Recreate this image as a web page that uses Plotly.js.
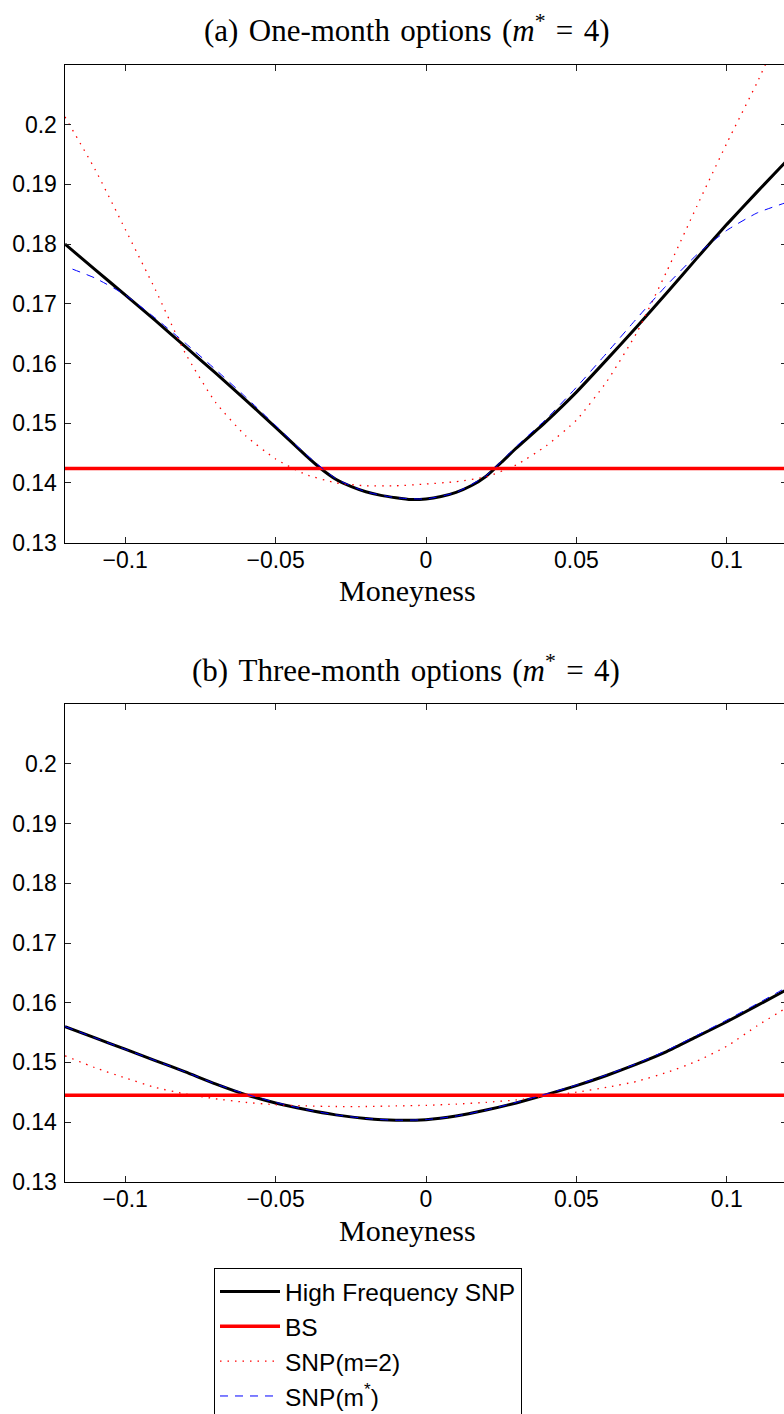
<!DOCTYPE html>
<html>
<head>
<meta charset="utf-8">
<script src="https://cdn.plot.ly/plotly-3.0.1.min.js"></script>
<style>
  html, body { margin: 0; padding: 0; background: #ffffff; overflow: hidden; }
  #chart { width: 800px; height: 1440px; }
</style>
</head>
<body>
<div id="chart"></div>
<script>
// ---------- data ----------
// (a) One-month options
const xTopHF = [-0.12,-0.11,-0.10,-0.09,-0.08,-0.07,-0.06,-0.05,-0.04,-0.035,-0.03,-0.025,-0.02,-0.015,-0.01,-0.005,0,0.005,0.01,0.015,0.02,0.025,0.03,0.04,0.05,0.06,0.07,0.08,0.09,0.10,0.11,0.12];
const yTopHF = [0.1800,0.1757,0.1715,0.1672,0.1628,0.1584,0.1539,0.1493,0.1446,0.1424,0.1406,0.1394,0.1385,0.1379,0.1375,0.1372,0.1373,0.1377,0.1384,0.1395,0.1411,0.1434,0.1458,0.1503,0.1552,0.1606,0.1661,0.1718,0.1776,0.1833,0.1887,0.1940];

const xTopSNPstar = [-0.1175,-0.11,-0.10,-0.09,-0.08,-0.07,-0.06,-0.05,-0.04,-0.03,-0.02,-0.01,0,0.01,0.02,0.03,0.04,0.05,0.06,0.07,0.08,0.09,0.10,0.11,0.12];
const yTopSNPstar = [0.1758,0.1743,0.1715,0.1676,0.1634,0.1590,0.1544,0.1496,0.1448,0.1407,0.1385,0.1375,0.1373,0.1384,0.1412,0.1461,0.1507,0.1560,0.1617,0.1675,0.1731,0.1782,0.1823,0.1852,0.1870];

const moneyness = [-0.12,-0.11,-0.10,-0.09,-0.08,-0.07,-0.06,-0.05,-0.04,-0.03,-0.02,-0.01,0,0.01,0.02,0.03,0.04,0.05,0.06,0.07,0.08,0.09,0.10,0.11,0.12];
const yTopSNP2 = [0.2013,0.1925,0.1825,0.1724,0.1617,0.1535,0.1479,0.1440,0.1414,0.1400,0.1395,0.1395,0.1398,0.1402,0.1410,0.1430,0.1462,0.1505,0.1569,0.1651,0.1754,0.1863,0.1969,0.2070,0.2180];

const bsRange = [-0.12, 0.12];
const bsTop = 0.1424;

// (b) Three-month options
const yBotHF = [0.1560,0.1541,0.1522,0.1503,0.1484,0.1464,0.1446,0.1432,0.1421,0.1412,0.1406,0.1403,0.1404,0.1410,0.1420,0.1432,0.1446,0.1461,0.1478,0.1497,0.1518,0.1543,0.1568,0.1595,0.1622];
const yBotSNPstar = [0.1560,0.1541,0.1522,0.1503,0.1484,0.1464,0.1447,0.1433,0.1421,0.1412,0.1406,0.1403,0.1404,0.1410,0.1420,0.1433,0.1447,0.1462,0.1479,0.1498,0.1520,0.1545,0.1571,0.1598,0.1626];
const yBotSNP2 = [0.1511,0.1491,0.1474,0.1458,0.1447,0.1439,0.1433,0.1429,0.1427,0.1426,0.1426,0.1427,0.1428,0.1430,0.1433,0.1437,0.1443,0.1450,0.1458,0.1468,0.1483,0.1502,0.1527,0.1561,0.1592];
const bsBot = 0.1445;

// tick labels
const xTickVals = [-0.1, -0.05, 0, 0.05, 0.1];
const xTickText = ['\u22120.1', '\u22120.05', '0', '0.05', '0.1'];
const yTickVals = [0.13, 0.14, 0.15, 0.16, 0.17, 0.18, 0.19, 0.2];
const yTickText = ['0.13', '0.14', '0.15', '0.16', '0.17', '0.18', '0.19', '0.2'];

const seriesNames = ['High Frequency SNP', 'BS', 'SNP(m=2)', 'SNP(m<sup>*</sup>)'];
const S = '\u2004';
const titleA = '(a)' + S + 'One-month' + S + 'options' + S + '(<i>m</i><sup>*</sup>' + S + '=' + S + '4)';
const titleB = '(b)' + S + 'Three-month' + S + 'options' + S + '(<i>m</i><sup>*</sup>' + S + '=' + S + '4)';
const xLabel = 'Moneyness';

// ---------- styles ----------
const sHF  = {color: '#000000', width: 3, shape: 'spline', smoothing: 0.5};
const sBS  = {color: '#ff0000', width: 3.5};
const sM2  = {color: '#ff0000', width: 1.3, dash: '1.5px,6px', shape: 'spline', smoothing: 0.5};
const sMS  = {color: '#0000ff', width: 1, dash: '8px,7px', shape: 'spline', smoothing: 0.5};

const traces = [
  {x: xTopHF, y: yTopHF, xaxis: 'x', yaxis: 'y', mode: 'lines', line: sHF, name: seriesNames[0], legendgroup: 'hf'},
  {x: bsRange, y: [bsTop, bsTop], xaxis: 'x', yaxis: 'y', mode: 'lines', line: sBS, name: seriesNames[1], legendgroup: 'bs'},
  {x: moneyness, y: yTopSNP2, xaxis: 'x', yaxis: 'y', mode: 'lines', line: sM2, name: seriesNames[2], legendgroup: 'm2'},
  {x: xTopSNPstar, y: yTopSNPstar, xaxis: 'x', yaxis: 'y', mode: 'lines', line: sMS, name: seriesNames[3], legendgroup: 'ms'},
  {x: moneyness, y: yBotHF, xaxis: 'x2', yaxis: 'y2', mode: 'lines', line: sHF, name: seriesNames[0], legendgroup: 'hf', showlegend: false},
  {x: bsRange, y: [bsBot, bsBot], xaxis: 'x2', yaxis: 'y2', mode: 'lines', line: sBS, name: seriesNames[1], legendgroup: 'bs', showlegend: false},
  {x: moneyness, y: yBotSNP2, xaxis: 'x2', yaxis: 'y2', mode: 'lines', line: sM2, name: seriesNames[2], legendgroup: 'm2', showlegend: false},
  {x: moneyness, y: yBotSNPstar, xaxis: 'x2', yaxis: 'y2', mode: 'lines', line: sMS, name: seriesNames[3], legendgroup: 'ms', showlegend: false}
];

const H = 1440;
const tickFont = {family: 'Liberation Sans, Arial, sans-serif', size: 23, color: '#000000'};
const titleFont = {family: 'Liberation Serif, Times New Roman, serif', size: 31, color: '#000000'};
const labelFont = {family: 'Liberation Serif, Times New Roman, serif', size: 30, color: '#000000'};

function xAxis(anchor) {
  return {
    anchor: anchor, range: [-0.12, 0.12], domain: [0, 1],
    tickmode: 'array', tickvals: xTickVals, ticktext: xTickText,
    ticks: 'inside', ticklen: 6, tickwidth: 1, tickcolor: '#222222',
    showline: true, linecolor: '#000000', linewidth: 1.5, mirror: 'allticks',
    showgrid: false, zeroline: false, tickfont: tickFont, ticklabelstandoff: -4
  };
}
function yAxis(anchor, top, bottom) {
  return {
    anchor: anchor, range: [0.13, 0.21],
    domain: [1 - bottom / H, 1 - top / H],
    tickmode: 'array', tickvals: yTickVals, ticktext: yTickText,
    ticks: 'inside', ticklen: 6, tickwidth: 1, tickcolor: '#222222',
    showline: true, linecolor: '#000000', linewidth: 1.5, mirror: 'allticks',
    showgrid: false, zeroline: false, tickfont: tickFont, ticklabelstandoff: 2
  };
}

const layout = {
  width: 800, height: H,
  margin: {l: 65, r: 13, t: 0, b: 0, pad: 0},
  paper_bgcolor: '#ffffff', plot_bgcolor: '#ffffff',
  showlegend: true,
  xaxis: xAxis('y'),
  yaxis: yAxis('x', 65, 542.5),
  xaxis2: xAxis('y2'),
  yaxis2: yAxis('x2', 704.3, 1181.7),
  legend: {
    x: (214 - 65) / 722, y: 1 - 1268 / H, xanchor: 'left', yanchor: 'top',
    bgcolor: '#ffffff', bordercolor: '#000000', borderwidth: 1,
    font: {family: 'Liberation Sans, Arial, sans-serif', size: 24.5, color: '#000000'},
    itemwidth: 60, tracegroupgap: 0, traceorder: 'normal'
  },
  annotations: [
    {text: titleA, xref: 'paper', yref: 'paper',
     x: (406 - 65) / 722, y: 1 - 28 / H, xanchor: 'center', yanchor: 'middle', showarrow: false, font: titleFont},
    {text: xLabel, xref: 'paper', yref: 'paper',
     x: (407 - 65) / 722, y: 1 - 590 / H, xanchor: 'center', yanchor: 'middle', showarrow: false, font: labelFont},
    {text: titleB, xref: 'paper', yref: 'paper',
     x: (406 - 65) / 722, y: 1 - 668 / H, xanchor: 'center', yanchor: 'middle', showarrow: false, font: titleFont},
    {text: xLabel, xref: 'paper', yref: 'paper',
     x: (407 - 65) / 722, y: 1 - 1230 / H, xanchor: 'center', yanchor: 'middle', showarrow: false, font: labelFont}
  ]
};

Plotly.newPlot('chart', traces, layout, {displayModeBar: false, staticPlot: true});
</script>
</body>
</html>
